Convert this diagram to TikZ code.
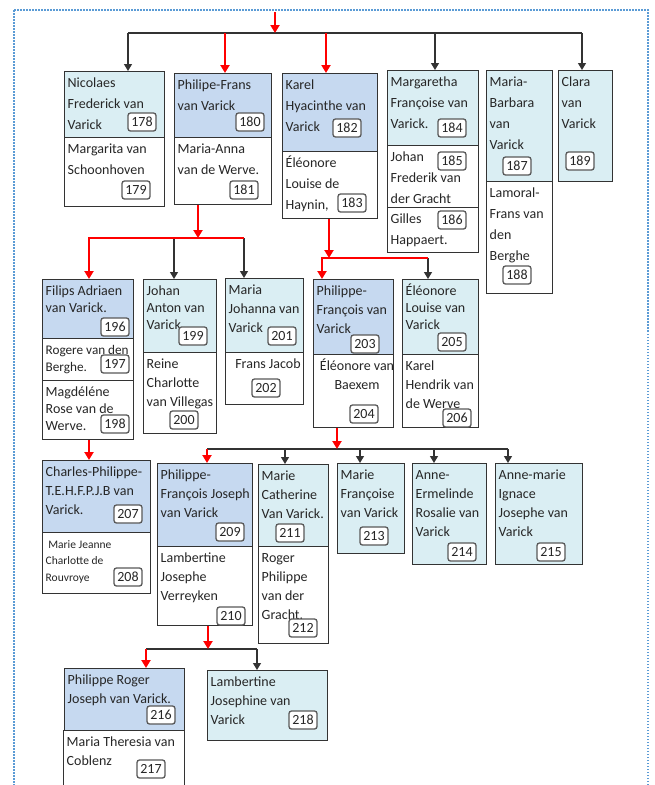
\documentclass[tikz,border=0pt]{standalone}
\usepackage{fontspec}
\setmainfont{Carlito}
\usepackage{xcolor}
\usepackage{tikz}
\usetikzlibrary{arrows.meta, positioning}

\definecolor{paleCyan}{RGB}{218,238,243}
\definecolor{paleBlue}{RGB}{198,217,240}
\definecolor{frameBlue}{RGB}{91,155,213}
\definecolor{tagGray}{RGB}{89,89,89}
\definecolor{lineRed}{RGB}{255,0,0}
% fixed height of the first line of every name
\newcommand{\namestrut}{\rule{0pt}{13.2pt}}

\begin{document}
\begin{tikzpicture}[x=1pt, y=-1pt,
        sect/.style={draw=black!80, line width=1pt, anchor=north west, inner sep=0pt},
        cyansect/.style={sect, fill=paleCyan},
        bluesect/.style={sect, fill=paleBlue},
        whitesect/.style={sect, fill=white},
        txt/.style={anchor=north west, xshift=3.5pt, yshift=-2.6pt, align=left, inner sep=0pt,
            text=black!85, font=\fontsize{14}{19}\selectfont},
        toptxt/.style={txt, font=\fontsize{14}{21}\selectfont},
        densetxt/.style={txt, font=\fontsize{14}{17}\selectfont},
        smalltxt/.style={txt, font=\fontsize{11.5}{16.5}\selectfont},
        ctxt/.style={txt, anchor=north, xshift=0pt, align=center},
        tag/.style={draw=tagGray, fill=white, line width=1.3pt, rounded corners=2.5pt,
            minimum width=28pt, minimum height=18pt, inner sep=0pt, text=black!85,
            font=\fontsize{14}{15}\selectfont},
        redline/.style={draw=lineRed, line width=2.4pt, line join=miter},
        redarr/.style={redline, -{Triangle[width=9pt,length=8pt]}},
        blkline/.style={draw=black!80, line width=1.2pt},
        blkarr/.style={blkline, -{Triangle[width=8pt,length=7pt]}}]
        \useasboundingbox (0,0) rectangle (654,785);
        \clip (0,0) rectangle (654,785);

        % The frame
        \draw[frameBlue, line width=1.5pt, dash pattern=on 1.5pt off 1.5pt] (14,10) rectangle (648,820);

        % First generation
        \node[cyansect, minimum width=100, minimum height=66] (p178) at (64,71) {};
        \node[whitesect, minimum width=100, minimum height=69] (p179) at (64,137) {};
        \node[bluesect, minimum width=97, minimum height=64] (p180) at (174,73) {};
        \node[whitesect, minimum width=97, minimum height=67] (p181) at (174,137) {};
        \node[bluesect, minimum width=95, minimum height=78] (p182) at (282,73) {};
        \node[whitesect, minimum width=95, minimum height=67] (p183) at (282,151) {};
        \node[cyansect, minimum width=91, minimum height=75] (p184) at (387,70) {};
        \node[whitesect, minimum width=91, minimum height=62] (p185) at (387,145) {};
        \node[whitesect, minimum width=91, minimum height=45] (p186) at (387,207) {};
        \node[cyansect, minimum width=66, minimum height=111] (p187) at (486,70) {};
        \node[whitesect, minimum width=66, minimum height=112] (p188) at (486,181) {};
        \node[cyansect, minimum width=54, minimum height=111] (p189) at (558,70) {};

        \node[toptxt] (t178) at (p178.north west) {\namestrut Nicolaes\\Frederick van\\Varick};
        \node[toptxt] (t179) at (p179.north west) {\namestrut Margarita van\\Schoonhoven};
        \node[toptxt] (t180) at (p180.north west) {\namestrut Philipe-Frans\\van Varick};
        \node[toptxt] (t181) at (p181.north west) {\namestrut Maria-Anna\\van de Werve.};
        \node[toptxt] (t182) at (p182.north west) {\namestrut Karel\\Hyacinthe van\\Varick};
        \node[toptxt] (t183) at (p183.north west) {\namestrut Éléonore\\Louise de\\Haynin,};
        \node[toptxt] (t184) at (p184.north west) {\namestrut Margaretha\\Françoise van\\Varick.};
        \node[toptxt] (t185) at (p185.north west) {\namestrut Johan\\Frederik van\\der Gracht};
        \node[toptxt] (t186) at (p186.north west) {\namestrut Gilles\\Happaert.};
        \node[toptxt] (t187) at (p187.north west) {\namestrut Maria-\\Barbara\\van\\Varick};
        \node[toptxt] (t188) at (p188.north west) {\namestrut Lamoral-\\Frans van\\den\\Berghe};
        \node[toptxt] (t189) at (p189.north west) {\namestrut Clara\\van\\Varick};

        \node[tag] (b178) at (142,122) {178};
        \node[tag] (b179) at (136,190) {179};
        \node[tag] (b180) at (250,122) {180};
        \node[tag] (b181) at (244,190) {181};
        \node[tag] (b182) at (347,128) {182};
        \node[tag] (b183) at (352,203) {183};
        \node[tag] (b184) at (452,128) {184};
        \node[tag] (b185) at (452,161) {185};
        \node[tag] (b186) at (452,220) {186};
        \node[tag] (b187) at (517,166) {187};
        \node[tag] (b188) at (517,275) {188};
        \node[tag] (b189) at (580,161) {189};

        % Second generation
        \node[bluesect, minimum width=91, minimum height=59] (p196) at (42,279) {};
        \node[whitesect, minimum width=91, minimum height=42] (p197) at (42,338) {};
        \node[whitesect, minimum width=91, minimum height=59] (p198) at (42,380) {};
        \node[cyansect, minimum width=73, minimum height=73] (p199) at (143,279) {};
        \node[whitesect, minimum width=73, minimum height=81] (p200) at (143,352) {};
        \node[cyansect, minimum width=78, minimum height=74] (p201) at (225,278) {};
        \node[whitesect, minimum width=78, minimum height=52] (p202) at (225,352) {};
        \node[bluesect, minimum width=80, minimum height=75] (p203) at (313,279) {};
        \node[whitesect, minimum width=80, minimum height=73] (p204) at (313,354) {};
        \node[cyansect, minimum width=76, minimum height=75] (p205) at (402,279) {};
        \node[whitesect, minimum width=76, minimum height=73] (p206) at (402,354) {};

        \node[densetxt] (t196) at (p196.north west) {\namestrut Filips Adriaen\\van Varick.};
        \node[densetxt, font=\fontsize{13.2}{17}\selectfont] (t197) at (p197.north west) {\namestrut Rogere van den\\Berghe.};
        \node[densetxt] (t198) at (p198.north west) {\namestrut Magdéléne\\Rose van de\\Werve.};
        \node[densetxt] (t199) at (p199.north west) {\namestrut Johan\\Anton van\\Varick};
        \node[txt] (t200) at (p200.north west) {\namestrut Reine\\Charlotte\\van Villegas};
        \node[txt] (t201) at (p201.north west) {\namestrut Maria\\Johanna van\\Varick};
        \node[ctxt] (t202) at (p202.north) {\namestrut Frans Jacob};
        \node[txt] (t203) at (p203.north west) {\namestrut Philippe-\\François van\\Varick};
        \node[ctxt] (t204) at (p204.north) {\namestrut Éléonore van\\Baexem};
        \node[densetxt] (t205) at (p205.north west) {\namestrut Éléonore\\Louise van\\Varick};
        \node[txt] (t206) at (p206.north west) {\namestrut Karel\\Hendrik van\\de Werve};

        \node[tag] (b196) at (115,327) {196};
        \node[tag] (b197) at (115,364) {197};
        \node[tag] (b198) at (115,424) {198};
        \node[tag] (b199) at (193,336) {199};
        \node[tag] (b200) at (184,420) {200};
        \node[tag] (b201) at (282,336) {201};
        \node[tag] (b202) at (266,388) {202};
        \node[tag] (b203) at (365,344) {203};
        \node[tag] (b204) at (364,414) {204};
        \node[tag] (b205) at (452,342) {205};
        \node[tag] (b206) at (457,418) {206};

        % Third generation
        \node[bluesect, minimum width=108, minimum height=72] (p207) at (42,460) {};
        \node[whitesect, minimum width=108, minimum height=61] (p208) at (42,532) {};
        \node[bluesect, minimum width=95, minimum height=83] (p209) at (157,463) {};
        \node[whitesect, minimum width=95, minimum height=79] (p210) at (157,546) {};
        \node[cyansect, minimum width=70, minimum height=82] (p211) at (258,464) {};
        \node[whitesect, minimum width=70, minimum height=97] (p212) at (258,546) {};
        \node[cyansect, minimum width=67, minimum height=90] (p213) at (337,463) {};
        \node[cyansect, minimum width=74, minimum height=101] (p214) at (412,463) {};
        \node[cyansect, minimum width=87, minimum height=101] (p215) at (495,463) {};

        \node[txt] (t207) at (p207.north west) {\namestrut Charles-Philippe-\\T.E.H.F.P.J.B van\\Varick.};
        \node[smalltxt] (t208) at (p208.north west) {\namestrut\ Marie Jeanne\\Charlotte de\\Rouvroye};
        \node[txt] (t209) at (p209.north west) {\namestrut Philippe-\\François Joseph\\van Varick};
        \node[txt] (t210) at (p210.north west) {\namestrut Lambertine\\Josephe\\Verreyken};
        \node[txt] (t211) at (p211.north west) {\namestrut Marie\\Catherine\\Van Varick.};
        \node[txt] (t212) at (p212.north west) {\namestrut Roger\\Philippe\\van der\\Gracht.};
        \node[txt] (t213) at (p213.north west) {\namestrut Marie\\Françoise\\van Varick};
        \node[txt] (t214) at (p214.north west) {\namestrut Anne-\\Ermelinde\\Rosalie van\\Varick};
        \node[txt] (t215) at (p215.north west) {\namestrut Anne-marie\\Ignace\\Josephe van\\Varick};

        \node[tag] (b207) at (128,514) {207};
        \node[tag] (b208) at (128,577) {208};
        \node[tag] (b209) at (230,532) {209};
        \node[tag] (b210) at (231,616) {210};
        \node[tag] (b211) at (290,533) {211};
        \node[tag] (b212) at (303,628) {212};
        \node[tag] (b213) at (374,536) {213};
        \node[tag] (b214) at (462,552) {214};
        \node[tag] (b215) at (551,552) {215};

        % Fourth generation
        \node[bluesect, minimum width=120, minimum height=62] (p216) at (64,668) {};
        \node[whitesect, minimum width=121, minimum height=90] (p217) at (63,730) {};
        \node[cyansect, minimum width=120, minimum height=70] (p218) at (207,670) {};

        \node[txt] (t216) at (p216.north west) {\namestrut Philippe Roger\\Joseph van Varick.};
        \node[txt] (t217) at (p217.north west) {\namestrut Maria Theresia van\\Coblenz};
        \node[txt] (t218) at (p218.north west) {\namestrut Lambertine\\Josephine van\\Varick};

        \node[tag] (b216) at (161,715) {216};
        \node[tag] (b217) at (151,769) {217};
        \node[tag] (b218) at (303,720) {218};

        % Connectors from the top
        \coordinate (root) at (275,12);
        \coordinate (busA) at (275,33);
        \coordinate (jA178) at (128,33);
        \coordinate (jA180) at (225,33);
        \coordinate (jA182) at (326,33);
        \coordinate (jA184) at (435,33);
        \coordinate (jA189) at (582,33);
        \draw[blkline] (jA178) -- (jA189);
        \draw[redarr] (root) -- (busA);
        \draw[blkarr] (jA178) -- (jA178 |- p178.north);
        \draw[redarr] (jA180) -- (jA180 |- p180.north);
        \draw[redarr] (jA182) -- (jA182 |- p182.north);
        \draw[blkarr] (jA184) -- (jA184 |- p184.north);
        \draw[blkarr] (jA189) -- (jA189 |- p189.north);

        % Connectors below 181
        \coordinate (busB) at (198,238);
        \coordinate (jB196) at (89,238);
        \coordinate (jB199) at (174,238);
        \coordinate (jB201) at (244,238);
        \draw[blkarr] (jB199) -- (jB199 |- p199.north);
        \draw[blkarr] (jB201) -- (jB201 |- p201.north);
        \draw[redarr] (jB201) -- (jB196) -- (jB196 |- p196.north);
        \draw[redarr] (busB |- p181.south) -- (busB);

        % Connectors below 183
        \coordinate (busC) at (329,258);
        \coordinate (jC203) at (322,258);
        \coordinate (jC205) at (428,258);
        \draw[blkarr] (jC205) -- (jC205 |- p205.north);
        \draw[redarr] (jC205) -- (jC203) -- (jC203 |- p203.north);
        \draw[redarr] (busC |- p183.south) -- (busC);

        % Connector below 198
        \draw[redarr] (jB196 |- p198.south) -- (jB196 |- p207.north);

        % Connectors below 204
        \coordinate (busD) at (337,449);
        \coordinate (jD209) at (207,449);
        \coordinate (jD211) at (285,449);
        \coordinate (jD213) at (360,449);
        \coordinate (jD214) at (434,449);
        \coordinate (jD215) at (508,449);
        \draw[blkline] (jD209) -- (jD215);
        \draw[redarr] (busD |- p204.south) -- (busD);
        \draw[redarr] (jD209) -- (jD209 |- p209.north);
        \draw[blkarr] (jD211) -- (jD211 |- p211.north);
        \draw[blkarr] (jD213) -- (jD213 |- p213.north);
        \draw[blkarr] (jD214) -- (jD214 |- p214.north);
        \draw[blkarr] (jD215) -- (jD215 |- p215.north);

        % Connectors below 210
        \coordinate (busE) at (208,649);
        \coordinate (jE216) at (146,649);
        \coordinate (jE218) at (257,649);
        \draw[blkline] (jE216) -- (jE218);
        \draw[redarr] (busE |- p210.south) -- (busE);
        \draw[redarr] (jE216) -- (jE216 |- p216.north);
        \draw[blkarr] (jE218) -- (jE218 |- p218.north);
\end{tikzpicture}
\end{document}
